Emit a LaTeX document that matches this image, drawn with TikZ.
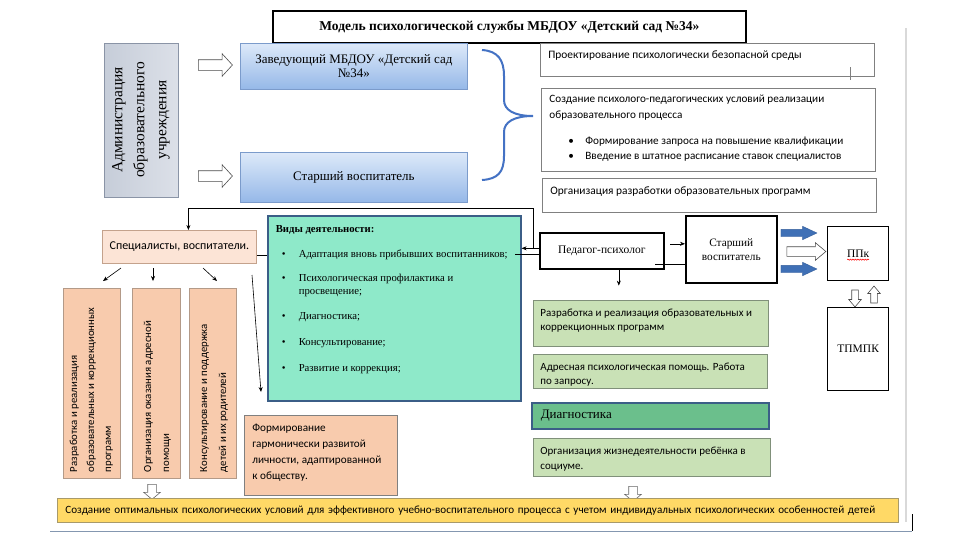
\documentclass[tikz,border=0pt]{standalone}
\usepackage{fontspec}
\setmainfont{Liberation Serif}
\newfontfamily\sansf{Carlito}
\usetikzlibrary{shapes.arrows,decorations.pathmorphing,arrows.meta}
\definecolor{blueedge}{HTML}{7B9BCB}
\definecolor{bluetop}{HTML}{DDE9F9}
\definecolor{bluebot}{HTML}{95B8E8}
\definecolor{admlo}{HTML}{C6CDD9}
\definecolor{admhi}{HTML}{DCE0E8}
\definecolor{admedge}{HTML}{8A94A6}
\definecolor{bracecol}{HTML}{4472C4}
\definecolor{grayedge}{HTML}{808080}
\definecolor{peachlt}{HTML}{FCE4D6}
\definecolor{peachltedge}{HTML}{C4A28C}
\definecolor{peach}{HTML}{F8CBAD}
\definecolor{peachedge}{HTML}{B39A88}
\definecolor{mint}{HTML}{8EE9C9}
\definecolor{navyedge}{HTML}{3B5E87}
\definecolor{lgreen}{HTML}{C9E1B6}
\definecolor{lgreenedge}{HTML}{80907A}
\definecolor{mgreen}{HTML}{6BBF8C}
\definecolor{yellowfill}{HTML}{FFD966}
\definecolor{yellowedge}{HTML}{A89A6A}
\definecolor{arrowblue}{HTML}{3F70B6}
\definecolor{pageline}{HTML}{8497B0}
\newcommand\tlbox[4]{\parbox[c][#2pt][t]{#1pt}{\rule{0pt}{#3pt}#4}}
\newcommand\ssz{\sansf\fontsize{11.4}{14}\selectfont}
\newcommand\bul{\makebox[17pt][l]{\textbullet}}
\begin{document}
\begin{tikzpicture}[x=1pt,y=-1pt,
  nw/.style={anchor=north west, inner sep=0pt},
  conn/.style={line width=0.6pt},
  arr/.style={line width=0.6pt,-{Stealth[length=5pt,width=4pt]}},
  harrowA/.style={single arrow, draw=black!70, fill=white, line width=0.6pt, inner sep=0pt, inner ysep=5pt, single arrow head extend=6pt, minimum height=34pt, single arrow tip angle=95},
  harrowB/.style={single arrow, draw=black!70, fill=white, line width=0.6pt, inner sep=0pt, inner ysep=4.5pt, single arrow head extend=4pt, minimum height=39pt, single arrow tip angle=80},
  harrowC/.style={single arrow, draw=black!70, fill=white, line width=0.6pt, inner sep=0pt, inner ysep=3pt, single arrow head extend=3pt, minimum height=17pt, single arrow tip angle=80},
  harrowD/.style={single arrow, draw=black!60, fill=white, line width=0.6pt, inner sep=0pt, inner ysep=4pt, single arrow head extend=4pt, minimum height=15pt, single arrow tip angle=100},
  barrow/.style={single arrow, draw=arrowblue!85!black, fill=arrowblue, line width=0.4pt, inner sep=0pt, inner ysep=3.5pt, single arrow head extend=3pt, minimum height=36pt, single arrow tip angle=50},
  whitebox/.style={nw, draw=grayedge, line width=0.8pt, fill=white, inner xsep=8pt},
  greenbox/.style={nw, draw=lgreenedge, line width=0.8pt, fill=lgreen, inner xsep=7pt},
  blackbox/.style={nw, draw=black, line width=1.6pt, fill=white},
  bluebox/.style={nw, draw=blueedge, line width=0.8pt, top color=bluetop, bottom color=bluebot, minimum width=227, align=center, font=\fontsize{13}{14}\selectfont},
  vbox/.style={draw=peachedge, fill=peach, line width=0.8pt, rotate=90, inner xsep=6pt, inner ysep=0pt}
]
\useasboundingbox (0,0) rectangle (972,555);
\fill[white] (0,0) rectangle (972,555);

% page guide lines
\draw[black!15, line width=2pt] (906,28) -- (906,522);
\draw[pageline, line width=0.8pt] (50,531) -- (912,531);
\draw[black, line width=1pt] (912,514) -- (912,531);

% title
\node[nw, draw=black, line width=1.8pt, fill=white, minimum width=473, minimum height=32] (title) at (272,10) {\bfseries\fontsize{13.5}{16}\selectfont Модель психологической службы МБДОУ «Детский сад №34»};

% administration
\node[draw=admedge, line width=0.8pt, left color=admlo, right color=admhi, rotate=90, minimum width=154, minimum height=74, inner sep=0pt, align=center, font=\fontsize{15.5}{22}\selectfont] (adm) at (141,120) {Администрация\\образовательного\\учреждения};
\node[harrowA] (ha1) at (213,65) {};
\node[harrowA] (ha2) at (213,176) {};

\node[bluebox, minimum height=46] (zav) at (240,43) {Заведующий МБДОУ «Детский сад\\№34»};
\node[bluebox, minimum height=50] (star1) at (240,152) {Старший воспитатель};

% brace
\draw[bracecol, line width=2pt] (482,50) .. controls (498,51) and (504,60) .. (504,76) -- (504,100) .. controls (504,110) and (514,116) .. (533,116) .. controls (514,116) and (504,122) .. (504,132) -- (504,156) .. controls (504,172) and (498,179) .. (482,180);

% right column
\node[whitebox] (proj) at (540,43) {\ssz\tlbox{318}{33}{15}{Проектирование психологически безопасной среды}};
\draw[grayedge, line width=0.8pt] (850,67) -- (850,80);
\node[whitebox] (usl) at (541,88) {\sansf\fontsize{11.2}{16}\selectfont\tlbox{318}{83}{14}{\mbox{Создание психолого-педагогических условий реализации}\\образовательного процесса\\[10pt]\hspace*{19pt}\bul \mbox{Формирование запроса на повышение квалификации}\\[-1pt]\hspace*{19pt}\bul \mbox{Введение в штатное расписание ставок специалистов}}};
\node[whitebox] (org) at (542,178) {\ssz\tlbox{318}{34}{16}{Организация разработки образовательных программ}};

% specialists
\node[nw, draw=peachltedge, fill=peachlt, line width=0.8pt, minimum width=154, minimum height=33, font=\sansf\fontsize{12}{14}\selectfont] (spec) at (102,230) {Специалисты, воспитатели.};

% kinds of activity
\node[nw, draw=navyedge, fill=mint, line width=1.6pt, inner xsep=8pt, inner ysep=0pt] (vid) at (267,215) {\fontsize{10.7}{13}\selectfont\tlbox{237}{185}{17}{\textbf{Виды деятельности:}\\[12pt]
\hspace*{6pt}\bul \mbox{Адаптация вновь прибывших воспитанников;}\\[11pt]
\hspace*{6pt}\bul Психологическая профилактика и\\
\hspace*{23pt}просвещение;\\[12pt]
\hspace*{6pt}\bul Диагностика;\\[13pt]
\hspace*{6pt}\bul Консультирование;\\[13pt]
\hspace*{6pt}\bul Развитие и коррекция;}};

% psychologist and right side
\node[blackbox, minimum width=124, minimum height=36, font=\fontsize{11.5}{13}\selectfont] (ped) at (539,232) {Педагог-психолог};
\node[blackbox, minimum width=91, minimum height=67, align=center, font=\fontsize{11.3}{14}\selectfont] (star2) at (685,215) {Старший\\воспитатель};
\node[barrow] (bl1) at (795,233) {};
\node[barrow] (bl2) at (795,269) {};
\node[harrowB] (hb) at (803.5,251.5) {};
\node[nw, draw=black, line width=1.3pt, fill=white, minimum width=61, minimum height=54, font=\fontsize{11.5}{13}\selectfont] (ppk) at (827,226) {ППк};
\draw[red, line width=0.5pt, decorate, decoration={snake, amplitude=0.6pt, segment length=2.5pt}] ([xshift=-11pt,yshift=-6pt]ppk.center) -- ([xshift=11pt,yshift=-6pt]ppk.center);
\node[harrowC, rotate=-90] (hd) at (855,296.5) {};
\node[harrowC, rotate=90] (hu) at (874,296.5) {};
\node[nw, draw=black, line width=1.3pt, fill=white, minimum width=61, minimum height=83, font=\fontsize{11.5}{13}\selectfont] (tpmpk) at (827,307) {ТПМПК};

% green column
\node[greenbox] (gr1) at (533,300) {\sansf\fontsize{11}{14}\selectfont\tlbox{221}{46}{16}{\mbox{Разработка и реализация образовательных и}\\коррекционных программ}};
\node[greenbox] (gr2) at (533,354) {\sansf\fontsize{11}{14}\selectfont\tlbox{220}{34}{16}{\mbox{Адресная психологическая помощь. Работа}\\по запросу.}};
\node[nw, draw=navyedge, fill=mgreen, line width=1.6pt, text width=219pt, inner xsep=9pt, align=left, minimum height=26, font=\fontsize{13}{15}\selectfont] (diag) at (531,402) {Диагностика};
\node[greenbox] (gr4) at (533,438) {\sansf\fontsize{11}{15}\selectfont\tlbox{223}{38}{16}{\mbox{Организация жизнедеятельности ребёнка в}\\социуме.}};
\node[harrowD, rotate=-90] (hdb2) at (633,492) {};

% vertical boxes
\node[vbox] (b1) at (91.5,383) {\sansf\fontsize{10.8}{17}\selectfont\tlbox{178}{57}{14}{Разработка и реализация\\\mbox{образовательных и коррекционных}\\программ}};
\node[vbox] (b2) at (156,383) {\sansf\fontsize{10.8}{18}\selectfont\tlbox{178}{48}{19}{Организация оказания адресной\\помощи}};
\node[vbox] (b3) at (212.5,383) {\sansf\fontsize{10.8}{19}\selectfont\tlbox{178}{47}{18}{Консультирование и поддержка\\детей и их родителей}};
\node[harrowD, rotate=-90] (hdb1) at (152,490) {};

% formation
\node[nw, draw=grayedge, fill=peach, line width=0.8pt, inner xsep=8pt] (form) at (244,415) {\sansf\fontsize{11.2}{16}\selectfont\tlbox{137}{80}{16}{Формирование\\гармонически развитой\\\mbox{личности, адаптированной}\\к обществу.}};

% goal
\node[nw, draw=yellowedge, fill=yellowfill, line width=0.8pt, text width=825pt, inner xsep=8pt, minimum height=24, align=left, font=\sansf\fontsize{11.1}{14}\selectfont] (goal) at (57,498) {\mbox{Создание оптимальных психологических условий для эффективного учебно-воспитательного процесса с учетом индивидуальных психологических особенностей детей}};

% connectors
\coordinate (s1a) at (121,268); \coordinate (s1b) at (103,281);
\coordinate (s2a) at (153,268); \coordinate (s2b) at (153,281);
\coordinate (s3a) at (203,268); \coordinate (s3b) at (217,281);
\coordinate (sl1) at (252,275); \coordinate (sl2) at (261,392);
\draw[arr] (s1a) -- (s1b);
\draw[arr] (s2a) -- (s2b);
\draw[arr] (s3a) -- (s3b);
\draw[arr] (sl1) -- (sl2);
\draw[arr] ([yshift=2.5pt]ped.west) -- ([yshift=2.5pt]ped.west -| vid.east);
\draw[conn] ([yshift=-3.5pt]ped.west) -- ([xshift=-7pt,yshift=-3.5pt]ped.west -| vid.east);
\draw[arr] ([xshift=12pt,yshift=2.5pt]ped.west -| vid.east) |- ([xshift=9pt,yshift=22pt]spec.north) -- ([xshift=9pt]spec.north);
\draw[conn] ([yshift=-8.5pt]spec.east) -- ([yshift=-8.5pt]spec.east -| vid.west);
\draw[arr] ([xshift=17pt]ped.south) -- ++(0,16);
\draw[arr] ([xshift=-15pt,yshift=5.5pt]star2.west) -- ([yshift=5.5pt]star2.west);
\draw[conn] ([xshift=-30pt,yshift=-14.5pt]star2.west) -- ([yshift=-14.5pt]star2.west);
\end{tikzpicture}
\end{document}
